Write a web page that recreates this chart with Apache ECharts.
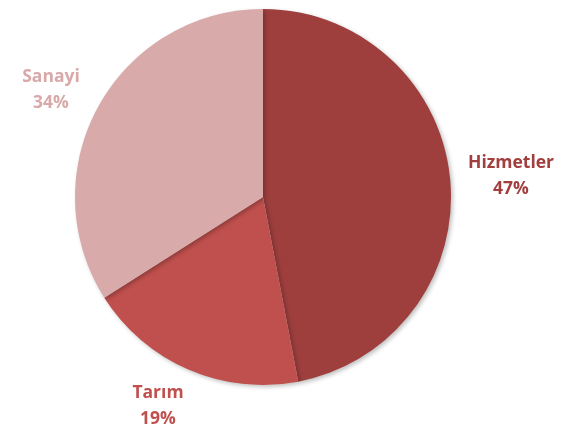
<!DOCTYPE html>
<html><head><meta charset="utf-8">
<script src="https://cdn.jsdelivr.net/npm/echarts@6/dist/echarts.min.js"></script>
<style>html,body{margin:0;padding:0;background:#fff}#c{width:575px;height:429px}</style>
</head><body><div id="c"></div>
<script>
const categories = ['Hizmetler', 'Tarım', 'Sanayi'];
const values = [47, 19, 34];
const colors = ['#9E3F3E', '#C0504D', '#D9AAAA'];
const labelColors = ['#A23E3E', '#C0504D', '#D9A8A8'];

const chart = echarts.init(document.getElementById('c'), null, {renderer: 'canvas'});
chart.setOption({
  animation: false,
  series: [{
    type: 'pie',
    center: [263, 197],
    radius: 188,
    startAngle: 90,
    clockwise: true,
    data: categories.map((n, i) => ({
      name: n, value: values[i],
      itemStyle: {color: colors[i]},
      label: {color: labelColors[i]}
    })),
    itemStyle: {shadowBlur: 4, shadowOffsetX: 2, shadowOffsetY: 2, shadowColor: 'rgba(0,0,0,0.25)'},
    label: {
      show: true, position: 'outside', overflow: 'none', width: 200,
      formatter: p => p.name + '\n' + p.value + '%',
      fontFamily: 'Open Sans', fontWeight: 'bold', fontSize: 17.5, lineHeight: 26, align: 'center'
    },
    labelLine: {show: false, length: 10, length2: 20},
    labelLayout: function (p) {
      const pos = [[511, 176], [158, 406], [51, 90]];
      return {x: pos[p.dataIndex][0], y: pos[p.dataIndex][1], align: 'center', verticalAlign: 'middle'};
    }
  }]
});
</script></body></html>
